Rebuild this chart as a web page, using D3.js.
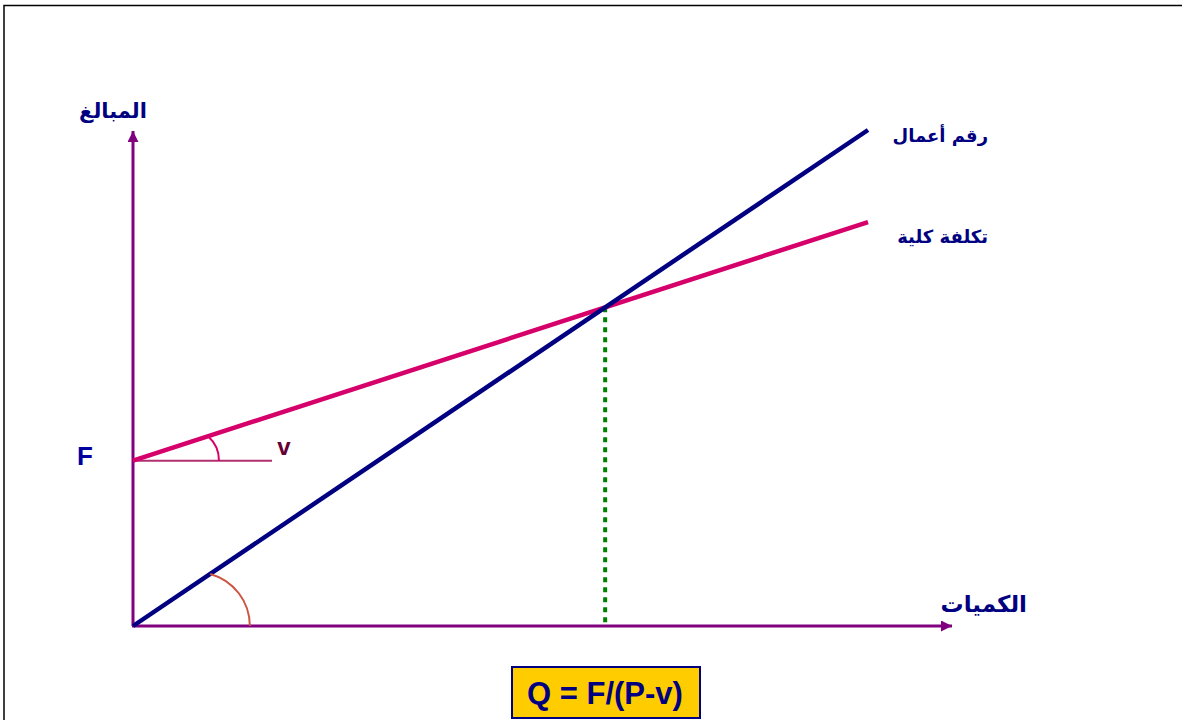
<!DOCTYPE html>
<html><head><meta charset="utf-8">
<script src="https://cdn.jsdelivr.net/npm/d3@7"></script>
<style>body{margin:0;background:#fff}svg{display:block}</style>
</head><body>
<svg id="c" width="1182" height="720"></svg>
<script>
// Data
const quantities = [0, 100];
const revenue = [0, 90];          // P = 0.9
const fixedCost = 30;             // F
const variableCost = 0.433;       // v
const totalCost = quantities.map(q => fixedCost + variableCost * q);
const labels = {y: "المبالغ", x: "الكميات", revenue: "رقم أعمال", cost: "تكلفة كلية", F: "F", v: "v", formula: "Q = F/(P-v)"};
const price = revenue[1] / quantities[1];
const breakEven = fixedCost / (price - variableCost);

const svg = d3.select("#c");
const x = d3.scaleLinear().domain([0, 100]).range([133, 868]);
const y = d3.scaleLinear().domain([0, 90]).range([626, 130]);

// frame
svg.append("path").attr("d", "M4,720 V5.5 H1182").attr("fill", "none").attr("stroke", "#000").attr("stroke-width", 1.5);

const defs = svg.append("defs");
defs.append("marker").attr("id", "arr").attr("viewBox", "0 0 10 10").attr("refX", 10).attr("refY", 5)
  .attr("markerWidth", 14).attr("markerHeight", 11).attr("markerUnits", "userSpaceOnUse").attr("orient", "auto")
  .append("path").attr("d", "M0,0 L10,5 L0,10 Z").attr("fill", "#800080");

const purple = "#800080";
// axes
svg.append("line").attr("x1", x(0)).attr("y1", y(0)).attr("x2", x(0)).attr("y2", 131)
  .attr("stroke", purple).attr("stroke-width", 3).attr("marker-end", "url(#arr)");
svg.append("line").attr("x1", x(0) - 1).attr("y1", y(0)).attr("x2", 952).attr("y2", y(0))
  .attr("stroke", purple).attr("stroke-width", 3).attr("marker-end", "url(#arr)");

// horizontal reference at F
svg.append("line").attr("x1", x(0)).attr("x2", 272).attr("y1", y(fixedCost)).attr("y2", y(fixedCost))
  .attr("stroke", "#b03070").attr("stroke-width", 2);

// break-even dotted line
svg.append("line").attr("x1", x(breakEven)).attr("x2", x(breakEven)).attr("y1", y(price * breakEven)).attr("y2", y(0) - 2)
  .attr("stroke", "#008000").attr("stroke-width", 4).attr("stroke-dasharray", "5 5");

const line = d3.line().x(d => x(d[0])).y(d => y(d[1]));
// cost line
svg.append("path").attr("d", line(quantities.map((q, i) => [q, totalCost[i]])))
  .attr("stroke", "#d6006b").attr("stroke-width", 4.5).attr("fill", "none");
// revenue line
svg.append("path").attr("d", line(quantities.map((q, i) => [q, revenue[i]])))
  .attr("stroke", "#000080").attr("stroke-width", 4.5).attr("fill", "none");

// angle arcs: from a point on the horizontal to a point on the sloped line
function arcPath(x1, y1, x2, y2) {
  const cx = ((x2 * x2 - x1 * x1) + (y2 - y1) * (y2 - y1)) / (2 * (x2 - x1));
  const r = Math.abs(x1 - cx);
  return `M${x1},${y1} A${r},${r} 0 0 0 ${x2},${y2}`;
}
svg.append("path").attr("d", arcPath(x(11.7), y(fixedCost), x(10.2), y(fixedCost + variableCost * 10.2)))
  .attr("fill", "none").attr("stroke", "#d6006b").attr("stroke-width", 2);
svg.append("path").attr("d", arcPath(x(15.9), y(0), x(10.5), y(price * 10.5)))
  .attr("fill", "none").attr("stroke", "#cc5544").attr("stroke-width", 2);

// labels
const ar = "'DejaVu Sans', sans-serif";
const navy = "#000080";
svg.append("text").attr("x", 113).attr("y", 118).attr("text-anchor", "middle").attr("font-family", ar)
  .attr("font-size", 21).attr("font-weight", "bold").attr("fill", navy).attr("direction", "rtl").text(labels.y);
svg.append("text").attr("x", 988).attr("y", 142).attr("text-anchor", "start").attr("font-family", ar)
  .attr("font-size", 18).attr("font-weight", "bold").attr("fill", navy).attr("direction", "rtl").text(labels.revenue);
svg.append("text").attr("x", 988).attr("y", 243).attr("text-anchor", "start").attr("font-family", ar)
  .attr("font-size", 18).attr("font-weight", "bold").attr("fill", navy).attr("direction", "rtl").text(labels.cost);
svg.append("text").attr("x", 1027).attr("y", 612).attr("text-anchor", "start").attr("font-family", ar)
  .attr("font-size", 23).attr("font-weight", "bold").attr("fill", navy).attr("direction", "rtl").text(labels.x);
svg.append("text").attr("x", 85).attr("y", 465).attr("text-anchor", "middle").attr("font-family", "'Liberation Sans', Arial, sans-serif")
  .attr("font-size", 26).attr("font-weight", "bold").attr("fill", "#0000a0").text(labels.F);
svg.append("text").attr("x", 284).attr("y", 455).attr("text-anchor", "middle").attr("font-family", "'Liberation Sans', Arial, sans-serif")
  .attr("font-size", 24).attr("font-weight", "bold").attr("fill", "#660033").text(labels.v);

// formula box
svg.append("rect").attr("x", 512).attr("y", 667).attr("width", 188).attr("height", 51)
  .attr("fill", "#ffcc00").attr("stroke", navy).attr("stroke-width", 2);
svg.append("text").attr("x", 605).attr("y", 704).attr("text-anchor", "middle").attr("font-family", "'Liberation Sans', Arial, sans-serif")
  .attr("font-size", 31).attr("font-weight", "bold").attr("fill", navy).text(labels.formula);
</script>
</body></html>
